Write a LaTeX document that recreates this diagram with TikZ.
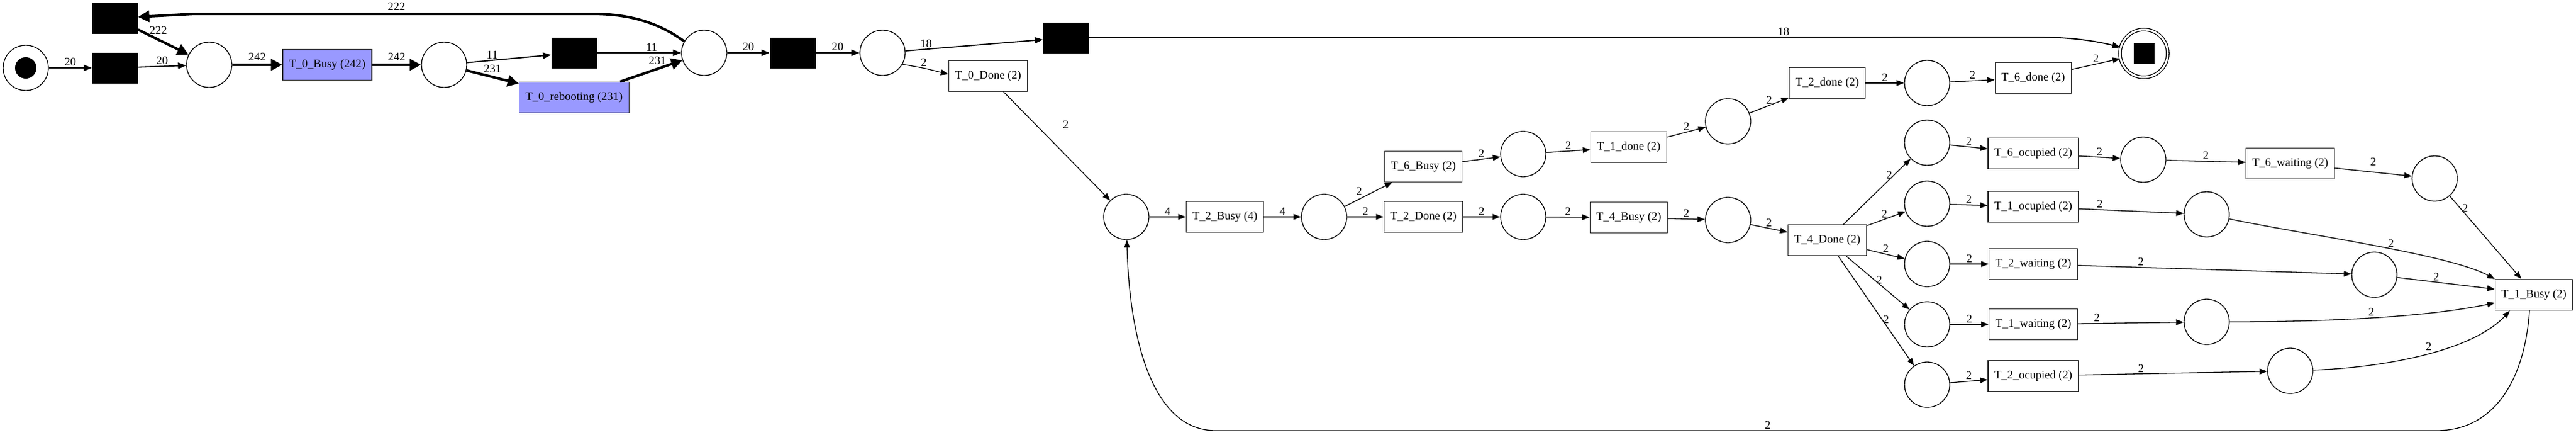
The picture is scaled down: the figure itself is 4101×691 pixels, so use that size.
\documentclass[tikz,border=0pt]{standalone}
\usepackage{fontspec}
\setmainfont{Liberation Serif}
\usetikzlibrary{arrows.meta, positioning}

\begin{document}
\begin{tikzpicture}[
    x=1pt, y=-1pt,
    font=\fontsize{18.5}{22}\selectfont,
    place/.style={circle, draw, line width=1.3pt, minimum size=72pt, inner sep=0pt},
    token/.style={circle, fill=black, minimum size=34pt, inner sep=0pt},
    trans/.style={rectangle, draw=black!85, line width=1.3pt, minimum height=49pt, inner xsep=10pt},
    busy/.style={trans, fill=blue!40!white},
    silent/.style={rectangle, fill=black, minimum width=73pt, minimum height=49pt, inner sep=0pt},
    arc/.style={->, >={Triangle[length=12pt,width=9pt]}, line width=1.3pt},
    arcmid/.style={arc, line width=1.8pt, >={Triangle[length=13pt,width=10pt]}},
    archeavy/.style={->, >={Triangle[length=18pt,width=18pt]}, line width=4pt},
    lbl/.style={inner sep=2pt}
]
\useasboundingbox (0,0) rectangle (4101,691);

% first part: T_0 loop
\node[place] (source) at (41,108) {};
\node[token] at (source) {};
\node[silent] (skip1) at (183,29) {};
\node[silent] (skip0) at (183,108) {};
\node[place] (p1) at (333,103) {};
\node[busy] (busy0) at (521,103) {T\_0\_Busy (242)};
\node[place] (p2) at (707,103) {};
\node[silent] (skip2) at (914,84) {};
\node[busy] (reboot0) at (914,155) {T\_0\_rebooting (231)};
\node[place] (p3) at (1121,84) {};
\node[silent] (skip3) at (1262,84) {};
\node[place] (p4) at (1405,84) {};
\node[silent] (skip4) at (1697,60) {};
\node[trans] (done0) at (1573,121) {T\_0\_Done (2)};

% middle part
\node[place] (p5) at (1793,345) {};
\node[trans] (busy2) at (1950,345) {T\_2\_Busy (4)};
\node[place] (p6) at (2108,345) {};
\node[trans] (busy6) at (2266,265) {T\_6\_Busy (2)};
\node[trans] (done2a) at (2266,345) {T\_2\_Done (2)};
\node[place] (p7) at (2425,245) {};
\node[place] (p8) at (2425,345) {};
\node[trans] (done1) at (2593,234) {T\_1\_done (2)};
\node[trans] (busy4) at (2593,346) {T\_4\_Busy (2)};
\node[place] (p9) at (2751,193) {};
\node[place] (p10) at (2751,350) {};
\node[trans] (done2) at (2909,132) {T\_2\_done (2)};
\node[trans] (done4) at (2909,382) {T\_4\_Done (2)};
\node[place] (p11) at (3068,132) {};
\node[trans] (done6) at (3237,124) {T\_6\_done (2)};
\node[place, double, double distance=3pt, minimum size=76pt] (sink) at (3413,85) {};
\node[fill=black, minimum size=33pt, inner sep=0pt] at (sink) {};

% right part
\node[place] (q1) at (3068,227) {};
\node[place] (q2) at (3068,324) {};
\node[place] (q3) at (3068,420) {};
\node[place] (q4) at (3068,516) {};
\node[place] (q5) at (3068,612) {};
\node[trans] (occ6) at (3237,244) {T\_6\_ocupied (2)};
\node[trans] (occ1) at (3237,329) {T\_1\_ocupied (2)};
\node[trans] (wait2) at (3237,420) {T\_2\_waiting (2)};
\node[trans] (wait1) at (3237,516) {T\_1\_waiting (2)};
\node[trans] (occ2) at (3237,598) {T\_2\_ocupied (2)};
\node[place] (q1b) at (3412,254) {};
\node[trans] (wait6) at (3646,260) {T\_6\_waiting (2)};
\node[place] (q1c) at (3876,284) {};
\node[place] (q2b) at (3513,341) {};
\node[place] (q3b) at (3780,437) {};
\node[place] (q4b) at (3513,512) {};
\node[place] (q5b) at (3646,590) {};
\node[trans] (busy1) at (4034,469) {T\_1\_Busy (2)};

% arcs
\draw[arcmid] (source) -- node[lbl, above] {20} (skip0);
\draw[arcmid] (skip0) -- node[lbl, above] {20} (p1);
\draw[archeavy] (skip1) -- node[lbl, above=4pt, pos=0.4] {222} (p1);
\draw[archeavy] (p1) -- node[lbl, above=3pt] {242} (busy0);
\draw[archeavy] (busy0) -- node[lbl, above=3pt] {242} (p2);
\draw[arcmid] (p2) -- node[lbl, above, pos=0.3] {11} (skip2);
\draw[archeavy] (p2) -- node[lbl, above=3pt] {231} (reboot0);
\draw[arcmid] (skip2) -- node[lbl, above, pos=0.65] {11} (p3);
\draw[archeavy] (reboot0) -- node[lbl, above=3pt, pos=0.6] {231} (p3);
\draw[archeavy] (p3.150) .. controls (1040,30) and (990,22) .. (940,22)
    -- node[lbl, above=2pt, pos=0.49] {222} (310,22) -- (skip1);
\draw[arcmid] (p3) -- node[lbl, above] {20} (skip3);
\draw[arcmid] (skip3) -- node[lbl, above] {20} (p4);
\draw[arcmid] (p4) -- node[lbl, above, pos=0.15] {18} (skip4);
\draw[arc] (p4.-30) .. controls (1470,108) .. node[lbl, above] {2} ([yshift=3pt]done0.west);
\draw[arcmid] (skip4) -- node[lbl, above, pos=0.734] {18} (3240,59)
    .. controls (3300,59) and (3340,66) .. (sink);
\draw[arc] (done0) -- node[lbl, pos=0.3, right=41pt] {2} (p5);

\draw[arc] (p5) -- node[lbl, above] {4} (busy2);
\draw[arc] (busy2) -- node[lbl, above] {4} (p6);
\draw[arc] (p6) -- node[lbl, above left, pos=0.4] {2} (busy6);
\draw[arc] (p6) -- node[lbl, above] {2} (done2a);
\draw[arc] (busy6) -- node[lbl, above] {2} (p7);
\draw[arc] (done2a) -- node[lbl, above] {2} (p8);
\draw[arc] (p7) -- node[lbl, above] {2} (done1);
\draw[arc] (p8) -- node[lbl, above] {2} (busy4);
\draw[arc] (done1) -- node[lbl, above] {2} (p9);
\draw[arc] (busy4) -- node[lbl, above] {2} (p10);
\draw[arc] (p9) -- node[lbl, above] {2} (done2);
\draw[arc] (done2) -- node[lbl, above] {2} (p11);
\draw[arc] (p11) -- node[lbl, above] {2} (done6);
\draw[arc] (done6) -- node[lbl, above] {2} (sink);
\draw[arc] (p10) -- node[lbl, above] {2} (done4);

\draw[arc] (done4) -- node[lbl, left, pos=0.75] {2} (q1);
\draw[arc] (done4) -- node[lbl, above, pos=0.45] {2} (q2);
\draw[arc] (done4) -- node[lbl, above] {2} (q3);
\draw[arc] (done4) -- node[lbl, right, pos=0.45] {2} (q4);
\draw[arc] (done4) -- node[lbl, right, inner sep=1pt, pos=0.58] {2} (q5);
\draw[arc] (q1) -- node[lbl, above] {2} (occ6);
\draw[arc] (q2) -- node[lbl, above] {2} (occ1);
\draw[arc] (q3) -- node[lbl, above] {2} (wait2);
\draw[arc] (q4) -- node[lbl, above] {2} (wait1);
\draw[arc] (q5) -- node[lbl, above] {2} (occ2);
\draw[arc] (occ6) -- node[lbl, above] {2} (q1b);
\draw[arc] (q1b) -- node[lbl, above] {2} (wait6);
\draw[arc] (wait6) -- node[lbl, above=8pt] {2} (q1c);
\draw[arc] (occ1) -- node[lbl, above, pos=0.2] {2} (q2b);
\draw[arc] (wait2) -- node[lbl, above, pos=0.23] {2} (q3b);
\draw[arc] (wait1) -- node[lbl, above, pos=0.18] {2} (q4b);
\draw[arc] (occ2) -- node[lbl, above, pos=0.33] {2} (q5b);

\draw[arc] (q1c) -- node[lbl, right, pos=0.15] {2} ([xshift=-20pt]busy1.north);
\draw[arc] (q2b) .. controls (3680,375) and (3900,405) .. node[lbl, above, pos=0.55] {2} (busy1.north west);
\draw[arc] (q3b) -- node[lbl, above, pos=0.4] {2} ([yshift=9pt]busy1.west);
\draw[arc] (q4b) .. controls (3700,512) and (3860,505) .. node[lbl, above, pos=0.5] {2} (busy1);
\draw[arc] (q5b) .. controls (3790,585) and (3935,560) .. node[lbl, above left, pos=0.55] {2} ([xshift=24pt]busy1.south west);

% loop back to p5
\draw[arc] ([xshift=-7pt]busy1.south) .. controls (4018,620) and (3960,685) .. (3880,685)
    -- node[lbl, above, pos=0.548] {2} (1935,685) .. controls (1835,685) and (1798,540) .. (p5);

\end{tikzpicture}
\end{document}
